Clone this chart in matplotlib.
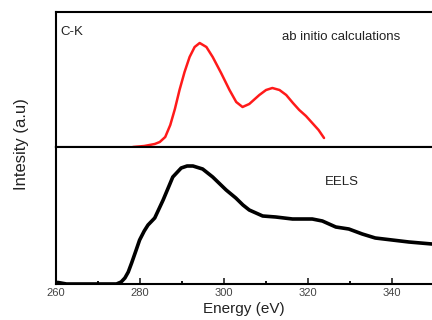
import matplotlib.pyplot as plt
from matplotlib.ticker import MultipleLocator

plt.rcParams['font.family'] = ['Liberation Sans', 'DejaVu Sans']

# ab initio C-K edge
calc_e = [278.3, 281.0, 283.5, 284.7, 286.0, 287.2, 288.3, 289.4, 290.6, 291.8, 293.0,
          294.2, 295.8, 297.3, 299.3, 301.3, 302.9, 304.4, 306.0, 308.4, 310.0, 311.5,
          313.2, 314.8, 316.4, 317.9, 319.5, 321.0, 322.5, 323.8]
calc_i = [0, 1, 3, 5, 10, 22, 38, 57, 75, 90, 100,
          104, 100, 90, 74, 57, 45, 40, 43, 52, 57, 59,
          57, 52, 44, 37, 31, 24, 17, 9]

# EELS spectrum
eels_e = [260.0, 260.5, 262.5, 266.0, 270.0, 274.4, 275.5, 276.4, 277.2, 278.0, 279.0,
          279.9, 281.0, 281.9, 283.5, 284.5, 285.5, 286.7, 287.8, 289.8, 291.2, 292.6,
          294.9, 297.3, 300.5, 302.8, 304.5, 306.0, 309.2, 312.3, 316.3, 321.0, 323.4,
          326.6, 329.7, 332.9, 336.0, 340.0, 344.0, 349.5]
eels_i = [1.5, 1.5, 0, 0, 0, 0, 2, 6, 12, 21, 33,
          44, 53, 59, 66, 75, 84, 96, 107, 116, 118, 118,
          115, 107, 94, 86, 79, 74, 68, 67, 65, 65, 63,
          57, 55, 50, 46, 44, 42, 40]

fig = plt.figure(figsize=(4.32, 3.2), dpi=100)
ax_top = fig.add_axes([56 / 432, (320 - 147) / 320, 1 - 56 / 432, 135 / 320])
ax_bot = fig.add_axes([56 / 432, 36 / 320, 1 - 56 / 432, 137 / 320], sharex=ax_top)

ax_top.plot(calc_e, calc_i, color='#ff1a1a', lw=1.8, solid_joinstyle='round',
            solid_capstyle='round', clip_on=False)
ax_bot.plot(eels_e, eels_i, color='black', lw=2.6, solid_joinstyle='round',
            solid_capstyle='round')

ax_top.set_ylim(0, 135)
ax_bot.set_ylim(0, 137)
ax_bot.set_xlim(260, 349.5)

for ax in (ax_top, ax_bot):
    ax.spines['right'].set_visible(False)
    for s in ('left', 'top', 'bottom'):
        ax.spines[s].set_linewidth(1.5)
    ax.set_yticks([])
    ax.tick_params(axis='y', left=False)

ax_top.tick_params(axis='x', bottom=False, labelbottom=False)
ax_bot.xaxis.set_major_locator(MultipleLocator(20))
ax_bot.xaxis.set_minor_locator(MultipleLocator(10))
ax_bot.tick_params(axis='x', which='major', direction='in', length=4, width=1.3,
                   labelsize=8, pad=3, colors='#333333', labelcolor='#444444')
ax_bot.tick_params(axis='x', which='minor', direction='in', length=2.5, width=1.3)

ax_top.text(0.012, 0.83, 'C-K', transform=ax_top.transAxes, fontsize=9.5, color='#222222')
ax_top.text(0.602, 0.79, 'ab initio calculations', transform=ax_top.transAxes,
            fontsize=9.5, color='#222222')
ax_bot.text(0.715, 0.72, 'EELS', transform=ax_bot.transAxes, fontsize=9.5, color='#222222')

ax_bot.set_xlabel('Energy (eV)', fontsize=11, labelpad=3, color='#222222')
fig.text(21.5 / 432, (320 - 144) / 320, 'Intesity (a.u)', rotation=90,
         fontsize=12, color='#222222', ha='center', va='center')

fig.savefig('out.png', dpi=100)
